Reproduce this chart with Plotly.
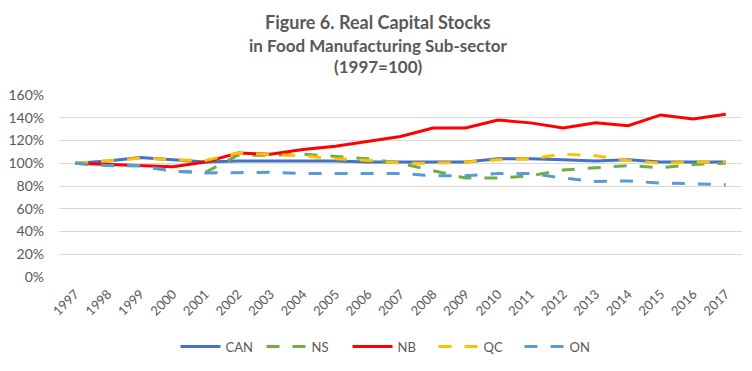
import plotly.graph_objects as go

years = [str(y) for y in range(1997, 2018)]
CAN = [100, 102, 105, 103, 101, 102, 102, 102, 102, 101, 101, 101, 101, 104, 104, 103, 102, 103, 101, 101, 101]
NS  = [100, 98, 97.5, 93, 92, 107, 107, 108, 106, 104, 100, 93.5, 87, 87, 89, 94, 96, 98, 96, 99, 100]
NB  = [100, 99, 98, 97, 101, 109, 108, 112, 115, 119, 123.5, 131, 131, 138, 135.5, 131, 135.5, 133, 142.5, 139, 143]
QC  = [100, 102.5, 104.5, 103, 102.5, 109, 108, 106.5, 104, 102.5, 100, 100, 101, 103, 104, 108, 106.5, 102.5, 100, 101, 101]
ON  = [100, 98, 98, 93, 91.5, 92, 92, 91, 91, 91, 91, 89, 89, 91, 91, 87, 84, 84.5, 82.5, 82, 81]
title_lines = ["Figure 6. Real Capital Stocks", "in Food Manufacturing Sub-sector", "(1997=100)"]

series = [
    ("CAN", CAN, "#4472C4", "solid"),
    ("NS", NS, "#70AD47", "13px,13px"),
    ("NB", NB, "#FF0000", "solid"),
    ("QC", QC, "#FFC000", "13px,13px"),
    ("ON", ON, "#5B9BD5", "13px,13px"),
]

font_family = "Lato, 'Open Sans', sans-serif"
grey = "#595959"

W, H = 752, 371
ML, MR, MT, MB = 59, 10, 95, 85
plot_w = W - ML - MR
plot_h = H - MT - MB

def py(px):
    return (H - MB - px) / plot_h

fig = go.Figure()
for name, vals, color, dash in series:
    fig.add_trace(go.Scatter(
        x=years, y=vals, name=name, mode="lines",
        line=dict(color=color, width=3, dash=dash),
    ))

title_sizes = [18, 17, 17]
for txt, ypx, fs in zip(title_lines, [18, 43, 65], title_sizes):
    fig.add_annotation(
        text="<b>" + txt + "</b>", xref="paper", yref="paper",
        x=(378 - ML) / plot_w, y=py(ypx), xanchor="center", yanchor="middle",
        showarrow=False, font=dict(family=font_family, size=fs, color=grey),
    )

fig.update_layout(
    width=W, height=H,
    margin=dict(l=ML, r=MR, t=MT, b=MB),
    paper_bgcolor="white", plot_bgcolor="white",
    font=dict(family=font_family, color=grey, size=13),
    showlegend=True,
    legend=dict(
        orientation="h", x=0.5 - 10 / plot_w, xanchor="center", y=py(359), yanchor="middle",
        font=dict(size=13, color=grey), itemwidth=40, entrywidth=31,
        traceorder="normal",
    ),
)
fig.update_xaxes(
    type="category", range=[-0.5, 20.5], tickangle=-45, showgrid=False, showline=False,
    ticks="", tickfont=dict(size=13, color=grey), automargin=False, ticklabelstandoff=6,
)
fig.update_yaxes(
    range=[0, 160], dtick=20, ticksuffix="%", showgrid=True,
    gridcolor="#D9D9D9", gridwidth=1, zeroline=False, showline=False,
    tickfont=dict(size=14, color=grey), ticklabelstandoff=14, automargin=False,
)

fig.write_html(
    "out.html",
    config={"displayModeBar": False},
    post_script="document.body.style.margin='0';document.body.style.padding='0';",
)
